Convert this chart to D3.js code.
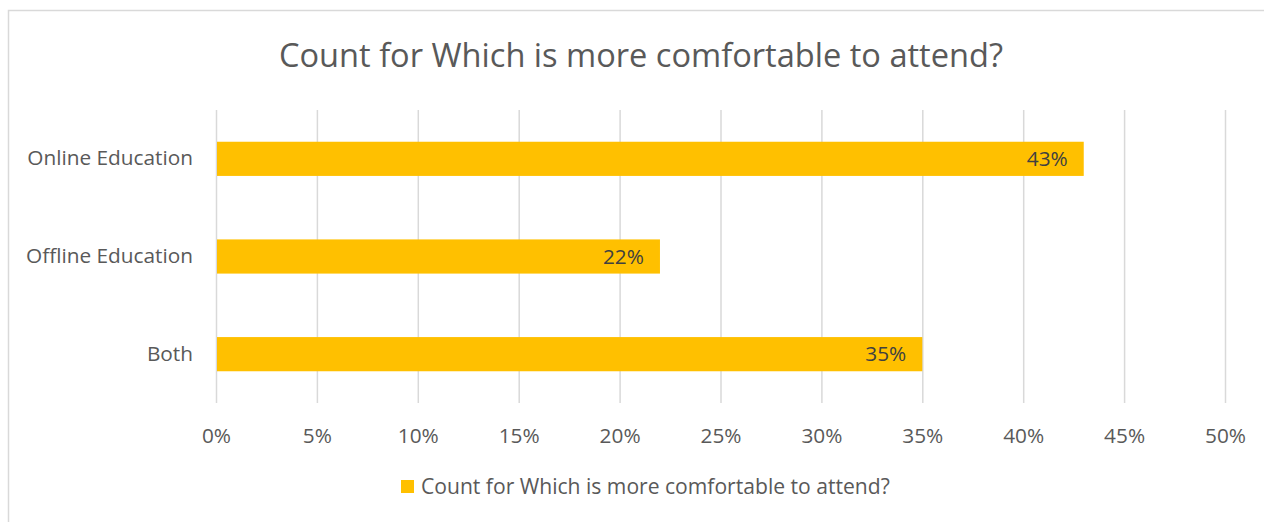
<!DOCTYPE html>
<html>
<head>
<meta charset="utf-8">
<script src="https://cdn.jsdelivr.net/npm/d3@7"></script>
<style>
  html, body { margin: 0; padding: 0; background: #fff; }
  svg { display: block; font-family: "Open Sans", sans-serif; }
</style>
</head>
<body>
<svg id="chart" width="1264" height="522"></svg>
<script>
const categories = ["Online Education", "Offline Education", "Both"];
const values = [43, 22, 35];
const tickValues = [0, 5, 10, 15, 20, 25, 30, 35, 40, 45, 50];
const title = "Count for Which is more comfortable to attend?";
const seriesName = "Count for Which is more comfortable to attend?";

const FONT = "'Open Sans', sans-serif";
const LABEL_SIZE = 20.8;
const svg = d3.select("#chart");
const W = 1264, H = 522;
const margin = { left: 216, right: 39, top: 110, bottom: 119 };

// outer chart frame
svg.append("rect")
  .attr("x", 8.5).attr("y", 10.5)
  .attr("width", W + 20).attr("height", H + 20)
  .attr("fill", "#fff").attr("stroke", "#D9D9D9").attr("stroke-width", 1.5);

const x = d3.scaleLinear().domain([0, 50]).range([margin.left, W - margin.right]);
const y = d3.scaleBand().domain(categories)
  .range([margin.top, H - margin.bottom]).paddingInner(0.65).paddingOuter(0.325);

// title
svg.append("text")
  .attr("x", 641).attr("y", 67)
  .attr("text-anchor", "middle")
  .attr("font-size", 32.6).attr("fill", "#595959")
  .text(title);

// vertical gridlines
svg.append("g").selectAll("line").data(tickValues).join("line")
  .attr("x1", d => x(d) + 0.5).attr("x2", d => x(d) + 0.5)
  .attr("y1", margin.top).attr("y2", H - margin.bottom)
  .attr("stroke", "#D9D9D9").attr("stroke-width", 1.5);

// x axis labels
const xAxis = d3.axisBottom(x).tickValues(tickValues).tickFormat(d => d + "%").tickSize(0).tickPadding(0);
const gx = svg.append("g").attr("transform", `translate(0,${H - margin.bottom + 25})`).call(xAxis);
gx.select(".domain").remove();
gx.selectAll("text").attr("font-size", LABEL_SIZE).attr("fill", "#595959").attr("font-family", FONT);

// y axis labels
const yAxis = d3.axisLeft(y).tickSize(0).tickPadding(23);
const gy = svg.append("g").attr("transform", `translate(${margin.left},0)`).call(yAxis);
gy.select(".domain").remove();
gy.selectAll("text").attr("font-size", LABEL_SIZE).attr("fill", "#595959").attr("font-family", FONT);

// bars
const data = categories.map((c, i) => ({ c, v: values[i] }));
svg.append("g").selectAll("rect").data(data).join("rect")
  .attr("x", x(0) + 1).attr("y", d => y(d.c))
  .attr("width", d => x(d.v) - x(0) - 1).attr("height", y.bandwidth())
  .attr("fill", "#FFC000");

// value labels (inside end)
svg.append("g").selectAll("text").data(data).join("text")
  .attr("x", d => x(d.v) - 16).attr("y", d => y(d.c) + y.bandwidth() / 2)
  .attr("dy", "0.35em").attr("text-anchor", "end")
  .attr("font-size", LABEL_SIZE).attr("fill", "#404040")
  .text(d => d.v + "%");

// legend
const lg = svg.append("g");
lg.append("rect").attr("x", 401).attr("y", 480).attr("width", 13).attr("height", 13).attr("fill", "#FFC000");
lg.append("text").attr("x", 421).attr("y", 487).attr("dy", "0.35em")
  .attr("font-size", 21.1).attr("fill", "#595959").text(seriesName);
</script>
</body>
</html>
